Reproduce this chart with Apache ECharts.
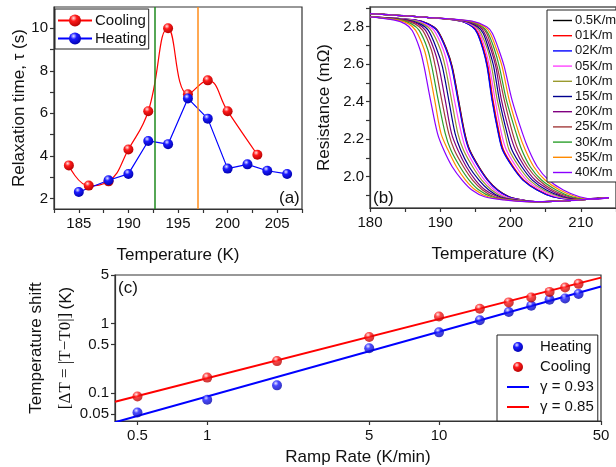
<!DOCTYPE html>
<html>
<head>
<meta charset="utf-8">
<script src="https://cdn.jsdelivr.net/npm/echarts@6/dist/echarts.min.js"></script>
<style>
html, body { margin: 0; padding: 0; background: #ffffff; }
#chart { width: 616px; height: 467px; }
</style>
</head>
<body>
<div id="chart"></div>
<script>
// ---------- (a) relaxation time vs temperature ----------
const coolTempA = [184, 186, 188, 190, 192, 194, 196, 198, 200, 203];
const coolTauA  = [3.55, 2.6, 2.8, 4.3, 6.1, 10.0, 6.9, 7.55, 6.1, 4.05];
const heatTempA = [185, 188, 190, 192, 194, 196, 198, 200, 202, 204, 206];
const heatTauA  = [2.3, 2.85, 3.15, 4.7, 4.55, 6.7, 5.75, 3.4, 3.6, 3.3, 3.15];
const markTempsA = [192.7, 197.0];
const tauTicks = [2, 4, 6, 8, 10];
const tempTicksA = [185, 190, 195, 200, 205];

// ---------- (b) resistance loops for each ramp rate ----------
const rateNames = ['0.5K/m', '01K/m', '02K/m', '05K/m', '10K/m', '15K/m',
                   '20K/m', '25K/m', '30K/m', '35K/m', '40K/m'];
// resistance levels shared by every cooling / heating branch
const coolR = [2.852, 2.835, 2.815, 2.78, 2.68, 2.587, 2.41, 2.231, 2.142, 2.053,
               1.982, 1.929, 1.893, 1.876, 1.867, 1.868, 1.888];
const heatR = [2.87, 2.85, 2.83, 2.80, 2.765, 2.68, 2.587, 2.41, 2.231, 2.142,
               2.053, 1.982, 1.929, 1.893, 1.88, 1.888];
// temperatures at which each cooling branch crosses those levels
const coolT05 = [180, 186.5, 188.3, 189.6, 190.9, 191.7, 192.6, 193.5, 194.2, 195.5, 196.8, 198.2, 199.8, 201.6, 203.5, 206, 214];
const coolT01 = [180, 186.45, 188.25, 189.55, 190.85, 191.65, 192.55, 193.45, 194.15, 195.45, 196.75, 198.15, 199.75, 201.55, 203.45, 206, 214];
const coolT02 = [180, 186.4, 188.2, 189.5, 190.8, 191.6, 192.5, 193.4, 194.1, 195.4, 196.7, 198.1, 199.7, 201.5, 203.5, 206, 214];
const coolT5  = [180, 186.1, 187.8, 189.1, 190.4, 191.1, 192.0, 193.0, 193.7, 195.0, 196.3, 197.7, 199.3, 201.3, 203.3, 206, 214];
const coolT10 = [180, 185.8, 187.5, 188.7, 190.0, 190.7, 191.6, 192.5, 193.3, 194.6, 195.9, 197.3, 198.9, 201.0, 203.1, 206, 214];
const coolT15 = [180, 185.4, 187.1, 188.3, 189.5, 190.3, 191.2, 192.1, 192.9, 194.1, 195.5, 196.9, 198.5, 200.7, 203.0, 206, 214];
const coolT20 = [180, 185.1, 186.8, 187.9, 189.1, 189.8, 190.7, 191.6, 192.5, 193.7, 195.0, 196.4, 198.2, 200.4, 202.8, 206, 214];
const coolT25 = [180, 184.7, 186.4, 187.5, 188.7, 189.3, 190.2, 191.2, 192.0, 193.3, 194.6, 196.0, 197.7, 200.1, 202.6, 206, 214];
const coolT30 = [180, 184.3, 185.9, 187.0, 188.2, 188.8, 189.7, 190.7, 191.5, 192.8, 194.1, 195.5, 197.3, 199.8, 202.4, 206, 214];
const coolT35 = [180, 184.0, 185.5, 186.5, 187.7, 188.3, 189.2, 190.1, 191.1, 192.3, 193.6, 195.0, 196.8, 199.5, 202.2, 206, 214];
const coolT40 = [180, 183.5, 185.0, 186.0, 187.1, 187.7, 188.6, 189.6, 190.5, 191.7, 193.1, 194.5, 196.3, 199.1, 202.0, 206, 214];
// temperatures at which each heating branch crosses its levels
const heatT05 = [180, 188, 193.0, 194.6, 195.3, 196.1, 196.7, 197.4, 198.3, 198.9, 200.3, 201.8, 203.8, 206.0, 208.5, 214];
const heatT01 = [180, 188, 193.0, 194.7, 195.4, 196.2, 196.8, 197.5, 198.4, 199.0, 200.4, 201.9, 203.9, 206.1, 208.6, 214];
const heatT02 = [180, 188, 192.95, 194.55, 195.25, 196.05, 196.65, 197.35, 198.25, 198.85, 200.25, 201.75, 203.75, 205.95, 208.45, 214];
const heatT5  = [180, 188, 193.2, 194.9, 195.6, 196.4, 197.0, 197.8, 198.7, 199.4, 200.8, 202.3, 204.3, 206.5, 209.0, 214];
const heatT10 = [180, 188, 193.4, 195.1, 195.8, 196.7, 197.3, 198.1, 199.2, 199.8, 201.2, 202.7, 204.7, 207.0, 209.4, 214];
const heatT15 = [180, 188, 193.5, 195.3, 196.1, 196.9, 197.6, 198.4, 199.5, 200.2, 201.6, 203.1, 205.1, 207.4, 209.8, 214];
const heatT20 = [180, 188, 193.7, 195.6, 196.3, 197.2, 197.9, 198.7, 199.9, 200.7, 202.0, 203.5, 205.6, 207.8, 210.2, 214];
const heatT25 = [180, 188, 193.9, 195.8, 196.6, 197.4, 198.1, 199.1, 200.3, 201.1, 202.4, 204.0, 206.0, 208.3, 210.6, 214];
const heatT30 = [180, 188, 194.1, 196.0, 196.8, 197.7, 198.4, 199.4, 200.8, 201.6, 202.8, 204.4, 206.5, 208.7, 211.0, 214];
const heatT35 = [180, 188, 194.3, 196.3, 197.1, 198.0, 198.8, 199.8, 201.2, 202.1, 203.3, 204.9, 207.0, 209.3, 211.5, 214];
const heatT40 = [180, 188, 194.5, 196.6, 197.4, 198.3, 199.1, 200.2, 201.7, 202.6, 203.8, 205.4, 207.5, 209.8, 212.0, 214];
const resTicks = [2.0, 2.2, 2.4, 2.6, 2.8];
const tempTicksB = [180, 190, 200, 210];

// ---------- (c) temperature shift vs ramp rate ----------
const rampRates = [0.5, 1, 2, 5, 10, 15, 20, 25, 30, 35, 40];
const shiftHeat = [0.053, 0.081, 0.13, 0.444, 0.75, 1.12, 1.47, 1.81, 2.2, 2.3, 2.66];
const shiftCool = [0.09, 0.168, 0.29, 0.645, 1.27, 1.64, 2.02, 2.38, 2.86, 3.3, 3.73];
const gammaHeat = 0.93, prefHeat = 0.09;
const gammaCool = 0.85, prefCool = 0.165;
const fitRange = [0.4, 50];
const rateTicks = [0.5, 1, 5, 10, 50];
const shiftTicks = [0.05, 0.1, 0.5, 1, 5];

// ---------- styling ----------
const FONT = 'Liberation Sans, Arial, Helvetica, sans-serif';
const rateColors = ['#000000', '#ff0000', '#0000ff', '#ff44ff', '#9a9a2e', '#00008f',
                    '#800080', '#a33c3c', '#2ca02c', '#ff8a00', '#8a00ff'];
const coolTemps = [coolT05, coolT01, coolT02, coolT5, coolT10, coolT15, coolT20, coolT25, coolT30, coolT35, coolT40];
const heatTemps = [heatT05, heatT01, heatT02, heatT5, heatT10, heatT15, heatT20, heatT25, heatT30, heatT35, heatT40];

const sphere = (hi, mid, lo) => ({
  type: 'radial', x: 0.38, y: 0.3, r: 0.75,
  colorStops: [{ offset: 0, color: hi }, { offset: 0.35, color: mid }, { offset: 1, color: lo }]
});
const redBall = sphere('#ffe4e4', '#ff1a1a', '#b00000');
const blueBall = sphere('#e4e4ff', '#1a1aff', '#0000a8');

const zip = (xs, ys) => xs.map((x, i) => [x, ys[i]]);
const fmtNum = v => String(+Number(v).toPrecision(3));

const axisBase = {
  axisLine: { show: true, lineStyle: { color: '#333', width: 1.2 } },
  axisTick: { show: true, inside: false, length: 4, lineStyle: { color: '#333', width: 1.2 } },
  splitLine: { show: false },
  axisLabel: { color: '#111', fontSize: 15, fontFamily: FONT },
  nameTextStyle: { color: '#111', fontSize: 17, fontFamily: FONT },
  nameLocation: 'middle'
};
const ax = extra => Object.assign({}, JSON.parse(JSON.stringify(axisBase)), extra, {
  axisLabel: Object.assign({}, axisBase.axisLabel, extra.axisLabel || {}),
  axisTick: Object.assign({}, axisBase.axisTick, extra.axisTick || {})
});

const series = [];

// (a)
series.push({
  name: 'Cooling', type: 'line', xAxisIndex: 0, yAxisIndex: 0,
  data: zip(coolTempA, coolTauA), smooth: 0.45,
  symbol: 'circle', symbolSize: 10, showSymbol: true,
  lineStyle: { color: '#ff0000', width: 1.2 }, itemStyle: { color: redBall }, z: 4
});
series.push({
  name: 'Heating', type: 'line', xAxisIndex: 0, yAxisIndex: 0,
  data: zip(heatTempA, heatTauA),
  symbol: 'circle', symbolSize: 10, showSymbol: true,
  lineStyle: { color: '#0000ff', width: 1.2 }, itemStyle: { color: blueBall }, z: 4,
  markLine: {
    silent: true, symbol: ['none', 'none'], label: { show: false },
    lineStyle: { type: 'solid', width: 1.5 },
    data: [
      { xAxis: markTempsA[0], lineStyle: { color: '#1e8a1e', type: 'solid', width: 1.5 } },
      { xAxis: markTempsA[1], lineStyle: { color: '#ff8c1a', type: 'solid', width: 1.5 } }
    ]
  }
});

// (b)
rateNames.forEach((name, k) => {
  series.push({
    name, type: 'line', xAxisIndex: 1, yAxisIndex: 1,
    data: zip(coolTemps[k], coolR), smooth: 0.3, showSymbol: false, symbol: 'none',
    lineStyle: { color: rateColors[k], width: 1.2 }, itemStyle: { color: rateColors[k] }
  });
  series.push({
    name, type: 'line', xAxisIndex: 1, yAxisIndex: 1,
    data: zip(heatTemps[k], heatR), smooth: 0.3, showSymbol: false, symbol: 'none',
    lineStyle: { color: rateColors[k], width: 1.2 }, itemStyle: { color: rateColors[k] }
  });
});

// (c) power-law fits, then measured shifts
const fitName = g => 'γ = ' + g.toFixed(2);
series.push({
  name: fitName(gammaHeat), type: 'line', xAxisIndex: 2, yAxisIndex: 2,
  data: fitRange.map(r => [r, prefHeat * Math.pow(r, gammaHeat)]),
  showSymbol: false, symbol: 'none',
  lineStyle: { color: '#0000ff', width: 2 }, itemStyle: { color: '#0000ff' }, z: 2
});
series.push({
  name: fitName(gammaCool), type: 'line', xAxisIndex: 2, yAxisIndex: 2,
  data: fitRange.map(r => [r, prefCool * Math.pow(r, gammaCool)]),
  showSymbol: false, symbol: 'none',
  lineStyle: { color: '#ff0000', width: 2 }, itemStyle: { color: '#ff0000' }, z: 2
});
series.push({
  name: 'Heating', type: 'scatter', xAxisIndex: 2, yAxisIndex: 2,
  data: zip(rampRates, shiftHeat), symbol: 'circle', symbolSize: 10,
  itemStyle: { color: blueBall }, z: 4
});
series.push({
  name: 'Cooling', type: 'scatter', xAxisIndex: 2, yAxisIndex: 2,
  data: zip(rampRates, shiftCool), symbol: 'circle', symbolSize: 10,
  itemStyle: { color: redBall }, z: 4
});

const lineIconC = 'path://M0,0H22V2H0Z';
const lineIconB = 'path://M0,0H19V1.4H0Z';

const option = {
  animation: false,
  backgroundColor: '#ffffff',
  textStyle: { fontFamily: FONT },
  grid: [
    { left: 54, top: 7, width: 248, height: 202, show: true, borderColor: '#333', borderWidth: 1.2 },
    { left: 370, top: 7, width: 250, height: 201, show: true, borderColor: '#555', borderWidth: 1.5 },
    { left: 115, top: 275, width: 486, height: 146.7, show: true, borderColor: '#333', borderWidth: 1.2 }
  ],
  xAxis: [
    ax({ gridIndex: 0, type: 'value', min: 182.5, max: 207.5,
         name: 'Temperature (K)', nameGap: 38,
         axisLabel: { customValues: tempTicksA, margin: 7 },
         axisTick: { customValues: [182.5, 185, 187.5, 190, 192.5, 195, 197.5, 200, 202.5, 205, 207.5] } }),
    ax({ gridIndex: 1, type: 'value', min: 180, max: 215,
         name: 'Temperature (K)', nameGap: 38,
         axisLabel: { customValues: tempTicksB, margin: 7 },
         axisTick: { customValues: [180, 185, 190, 195, 200, 205, 210, 215] } }),
    ax({ gridIndex: 2, type: 'log', logBase: 10, min: fitRange[0], max: fitRange[1],
         name: 'Ramp Rate (K/min)', nameGap: 28,
         axisLabel: { customValues: rateTicks, formatter: fmtNum, margin: 7 },
         axisTick: { customValues: rateTicks } })
  ],
  yAxis: [
    ax({ gridIndex: 0, type: 'value', min: 1.5, max: 11,
         name: 'Relaxation time, τ (s)', nameGap: 26, nameMoveOverlap: false,
         axisLabel: { customValues: tauTicks, margin: 6 },
         axisTick: { customValues: [2, 3, 4, 5, 6, 7, 8, 9, 10] } }),
    ax({ gridIndex: 1, type: 'value', min: 1.833, max: 2.905,
         name: 'Resistance (mΩ)', nameGap: 37, nameMoveOverlap: false,
         axisLabel: { customValues: resTicks, formatter: v => Number(v).toFixed(1), margin: 6 },
         axisTick: { customValues: [1.9, 2.0, 2.1, 2.2, 2.3, 2.4, 2.5, 2.6, 2.7, 2.8, 2.9] } }),
    ax({ gridIndex: 2, type: 'log', logBase: 10, min: 0.04, max: 5,
         name: '{a|Temperature shift}\n{b|[ΔT = |T−T0|]} {a|(K)}', nameGap: 34, nameMoveOverlap: false,
         nameTextStyle: {
           lineHeight: 30,
           rich: {
             a: { fontSize: 17, fontFamily: FONT, color: '#111' },
             b: { fontSize: 17, fontFamily: 'Liberation Serif, Times New Roman, serif', color: '#111' }
           }
         },
         axisLabel: { customValues: shiftTicks, formatter: fmtNum, margin: 6 },
         axisTick: { customValues: shiftTicks } })
  ],
  legend: [
    {
      data: ['Cooling', 'Heating'].map(n => ({ name: n })),
      orient: 'vertical', left: 55, top: 9,
      itemWidth: 34, itemHeight: 15, itemGap: 3,
      padding: [4, 2, 3, 2],
      backgroundColor: '#ffffff', borderColor: '#222', borderWidth: 1, borderRadius: 0,
      textStyle: { color: '#111', fontSize: 15, fontFamily: FONT, lineHeight: 14, padding: [0, 0, 0, -2] },
      selectedMode: false
    },
    {
      data: rateNames.map(n => ({ name: n, icon: lineIconB })),
      orient: 'vertical', left: 547, top: 10,
      itemWidth: 19, itemHeight: 8, itemGap: 2.2,
      padding: [4, 6, 3, 6],
      backgroundColor: '#ffffff', borderColor: '#222', borderWidth: 1, borderRadius: 0,
      textStyle: { color: '#111', fontSize: 13, fontFamily: FONT, lineHeight: 13, padding: [0, 0, 0, -2] },
      selectedMode: false
    },
    {
      data: [
        { name: 'Heating', icon: 'circle' },
        { name: 'Cooling', icon: 'circle' },
        { name: fitName(gammaHeat), icon: lineIconC },
        { name: fitName(gammaCool), icon: lineIconC }
      ],
      orient: 'vertical', left: 497, top: 335,
      itemWidth: 22, itemHeight: 10, itemGap: 4,
      padding: [4, 4, 6, 10],
      backgroundColor: '#ffffff', borderColor: '#222', borderWidth: 1, borderRadius: 0,
      textStyle: { color: '#111', fontSize: 15, fontFamily: FONT, lineHeight: 16, padding: [0, 0, 0, 6] },
      selectedMode: false
    }
  ],
  graphic: [
    { type: 'text', left: 279, top: 190, style: { text: '(a)', font: '17px ' + FONT, fill: '#111' } },
    { type: 'text', left: 373, top: 190, style: { text: '(b)', font: '17px ' + FONT, fill: '#111' } },
    { type: 'text', left: 118, top: 280, style: { text: '(c)', font: '17px ' + FONT, fill: '#111' } }
  ],
  series
};

const chart = echarts.init(document.getElementById('chart'), null, { renderer: 'canvas' });
chart.setOption(option);
</script>
</body>
</html>
